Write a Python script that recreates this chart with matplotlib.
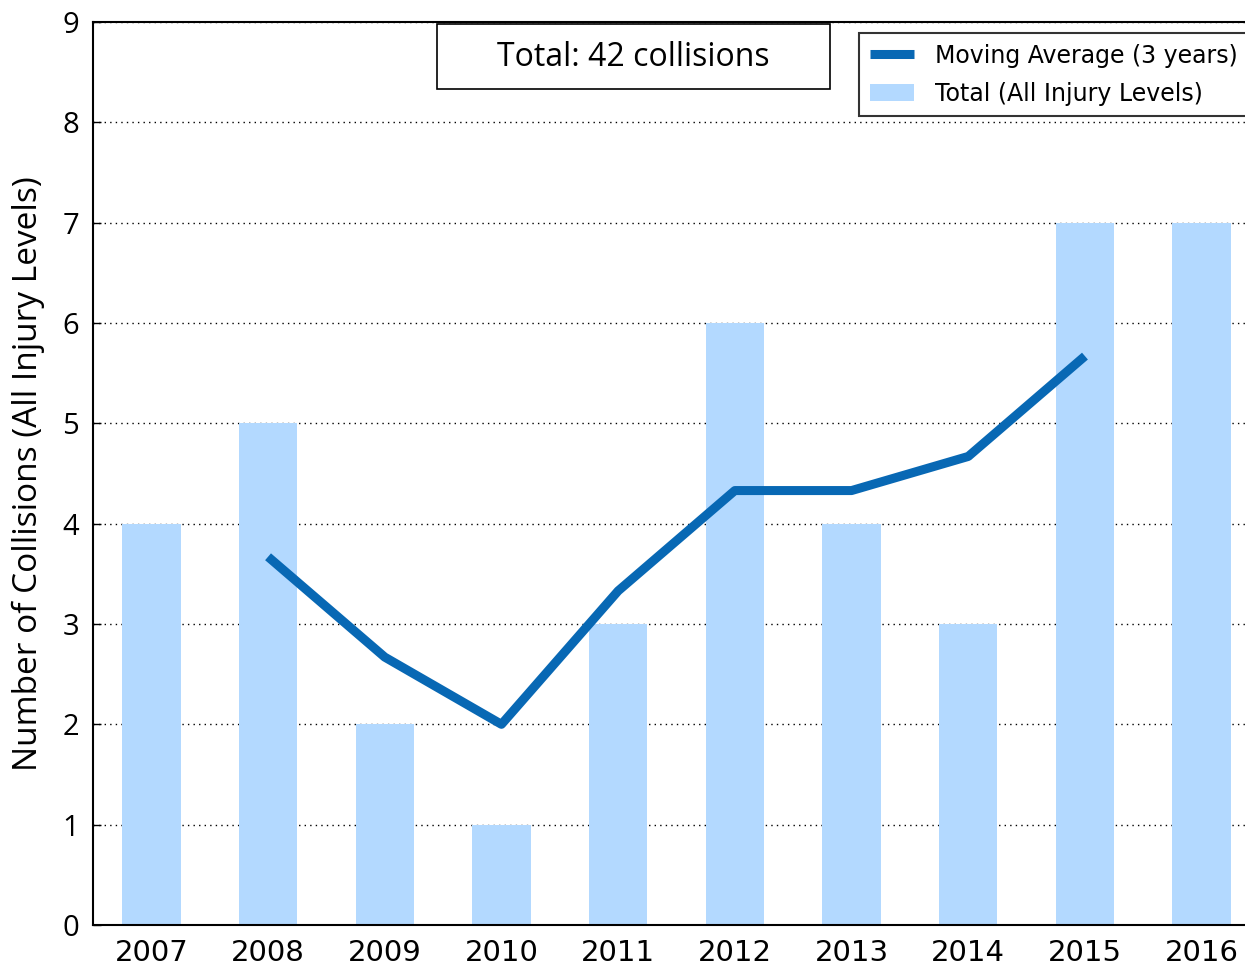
import matplotlib
matplotlib.use("Agg")
import matplotlib.pyplot as plt
import numpy as np

# datos
years = [2007, 2008, 2009, 2010, 2011, 2012, 2013, 2014, 2015, 2016]
totals = [4, 5, 2, 1, 3, 6, 4, 3, 7, 7]
ma_years = [2008, 2009, 2010, 2011, 2012, 2013, 2014, 2015]
ma_values = [3.67, 2.67, 2.0, 3.33, 4.33, 4.33, 4.67, 5.67]
yticks = [0, 1, 2, 3, 4, 5, 6, 7, 8, 9]

W, H = 1245, 966
fig = plt.figure(figsize=(W / 100, H / 100), dpi=100)
# el eje se sale por la derecha (figura recortada)
left, right, top, bottom = 93, 1260, 22, 925
ax = fig.add_axes([left / W, 1 - bottom / H, (right - left) / W, (bottom - top) / H])

ax.bar(years, totals, width=0.5, color="#b3d9ff", label="Total (All Injury Levels)", zorder=2)
ax.plot(ma_years, ma_values, color="#0868b4", linewidth=6.5, label="Moving Average (3 years)",
        solid_capstyle="butt", zorder=3)

ax.set_xlim(2006.5, 2016.5)
ax.set_ylim(0, 9)
ax.set_xticks(years)
ax.set_xticklabels([str(y) for y in years], fontsize=21, family="DejaVu Sans")
ax.set_yticks(yticks)
ax.set_yticklabels([str(v) for v in yticks], fontsize=21, family="Open Sans")
ax.tick_params(axis="x", length=0, pad=10)
ax.tick_params(axis="y", direction="in", length=6, width=1, pad=10)
ax.yaxis.grid(True, linestyle=(0, (1, 3)), color="black", linewidth=1, zorder=0)
ax.set_axisbelow(True)
for s in ax.spines.values():
    s.set_linewidth(1.5)

ax.set_ylabel("Number of Collisions (All Injury Levels)", fontsize=24, family="Open Sans")
ax.yaxis.set_label_coords(-0.041, 0.5)

handles, labels = ax.get_legend_handles_labels()
leg = ax.legend(handles, labels, loc="upper left", bbox_to_anchor=(859 / W, 1 - 33 / H),
                bbox_transform=fig.transFigure, fontsize=17, frameon=True, fancybox=False,
                handlelength=1.9, handletextpad=0.85, borderpad=0.45, labelspacing=0.6,
                borderaxespad=0)
leg.get_frame().set_edgecolor("black")
leg.get_frame().set_linewidth(1.5)

fig.text(633 / W, 1 - 58 / H, "Total: 42 collisions", fontsize=23, family="Open Sans",
         ha="center", va="center")
fig.patches.append(plt.Rectangle((437 / W, 1 - 89 / H), (830 - 437) / W, (89 - 24) / H,
                                 transform=fig.transFigure, fill=False, edgecolor="black",
                                 linewidth=1.2))

fig.savefig("out.png", dpi=100)
